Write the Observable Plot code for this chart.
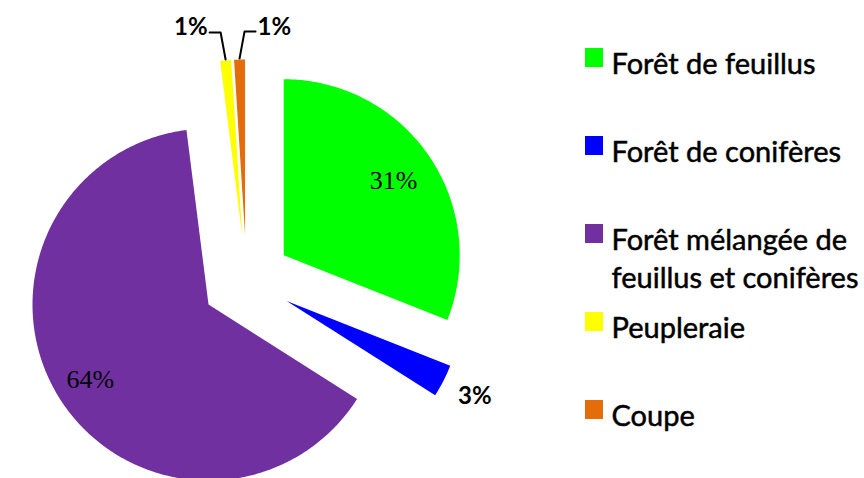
<!DOCTYPE html>
<html><head><meta charset="utf-8">
<script src="https://cdn.jsdelivr.net/npm/d3@7"></script>
<script src="https://cdn.jsdelivr.net/npm/@observablehq/plot@0.6"></script>
<style>body{margin:0;background:#fff}</style>
</head><body><div id="chart"></div>
<script>
// ---- data ----
const categories = ["Forêt de feuillus", "Forêt de conifères", "Forêt mélangée de feuillus et conifères", "Peupleraie", "Coupe"];
const legendLabels = ["Forêt de feuillus", "Forêt de conifères", "Forêt mélangée de\nfeuillus et conifères", "Peupleraie", "Coupe"];
const values = [31, 3, 64, 1, 1];
const pctLabels = ["31%", "3%", "64%", "1%", "1%"];
const colors = ["#00ff00", "#0000ff", "#7030a0", "#ffff00", "#e46c0a"];

// ---- layout ----
const W = 864, H = 478;
const cx = 246, cy = 280, R = 176, explode = 45;
const arcs = d3.pie().sort(null).value(d => d)(values);

const slicePts = [];
const inLabels = [], outLabels = [], leaderPts = [], leaderLabels = [];
arcs.forEach((a, i) => {
  const mid = (a.startAngle + a.endAngle) / 2;
  const sx = Math.sin(mid), sy = -Math.cos(mid);
  const ax = cx + explode * sx, ay = cy + explode * sy;
  const cat = categories[i];
  slicePts.push({cat, x: ax, y: ay});
  const n = Math.max(6, Math.ceil((a.endAngle - a.startAngle) * 90));
  for (let k = 0; k <= n; k++) {
    const t = a.startAngle + (a.endAngle - a.startAngle) * k / n;
    slicePts.push({cat, x: ax + R * Math.sin(t), y: ay - R * Math.cos(t)});
  }
  slicePts.push({cat, x: ax, y: ay});
  const pct = values[i] / d3.sum(values);
  if (pct >= 0.1) {
    const k = i === 0 ? 0.755 : 0.795;
    inLabels.push({text: pctLabels[i], x: ax + k * R * sx, y: ay + k * R * sy});
  } else if (pct >= 0.02) {
    outLabels.push({text: pctLabels[i], x: ax + 1.2 * R * sx, y: ay + 1.2 * R * sy});
  } else {
    const side = sx < -0.05 ? -1 : 1;
    const p0 = {x: ax + (R + 1) * sx, y: ay + (R + 1) * sy};
    const p1 = {x: p0.x + side * 5, y: p0.y - 27};
    const p2 = {x: p1.x + side * 11, y: p1.y};
    [p0, p1, p2].forEach(p => leaderPts.push({cat, x: p.x, y: p.y}));
    leaderLabels.push({text: pctLabels[i], x: p2.x + side * 2, y: p2.y + 3, anchor: side < 0 ? "end" : "start"});
  }
});

const legFs = 29;
const legend = categories.map((c, i) => ({cat: c, label: legendLabels[i], base: 67 + 88 * i}));

const chart = Plot.plot({
  width: W, height: H,
  margin: 0,
  x: {domain: [0, W], range: [0, W], axis: null},
  y: {domain: [0, H], range: [0, H], axis: null},
  color: {domain: categories, range: colors},
  style: {background: "#fff"},
  marks: [
    Plot.line(slicePts, {x: "x", y: "y", z: "cat", fill: "cat", stroke: "none", curve: "linear"}),
    Plot.line(leaderPts, {x: "x", y: "y", z: "cat", stroke: "#000", strokeWidth: 2, curve: "linear"}),
    Plot.text(inLabels, {x: "x", y: "y", text: "text", fontSize: 26, fontFamily: "'Liberation Serif', serif", fill: "#000", textAnchor: "middle", lineAnchor: "middle"}),
    Plot.text(outLabels, {x: "x", y: "y", text: "text", fontSize: 24, fontWeight: "bold", fontFamily: "Lato, sans-serif", fill: "#000", textAnchor: "middle", lineAnchor: "middle"}),
    Plot.text(leaderLabels.filter(d => d.anchor === "end"), {x: "x", y: "y", text: "text", fontSize: 24, fontWeight: "bold", fontFamily: "Lato, sans-serif", fill: "#000", textAnchor: "end", lineAnchor: "bottom"}),
    Plot.text(leaderLabels.filter(d => d.anchor === "start"), {x: "x", y: "y", text: "text", fontSize: 24, fontWeight: "bold", fontFamily: "Lato, sans-serif", fill: "#000", textAnchor: "start", lineAnchor: "bottom"}),
    Plot.rect(legend, {x1: 585, x2: 603, y1: d => d.base - 19, y2: d => d.base, fill: "cat"}),
    Plot.text(legend, {x: 611, y: d => d.base - 0.71 * legFs, text: "label", fontSize: legFs, fontFamily: "Lato, sans-serif", fill: "#000", stroke: "#000", strokeWidth: 0.5, textAnchor: "start", lineAnchor: "top", lineHeight: 38 / legFs})
  ]
});
document.getElementById("chart").appendChild(chart);
</script>
</body></html>
